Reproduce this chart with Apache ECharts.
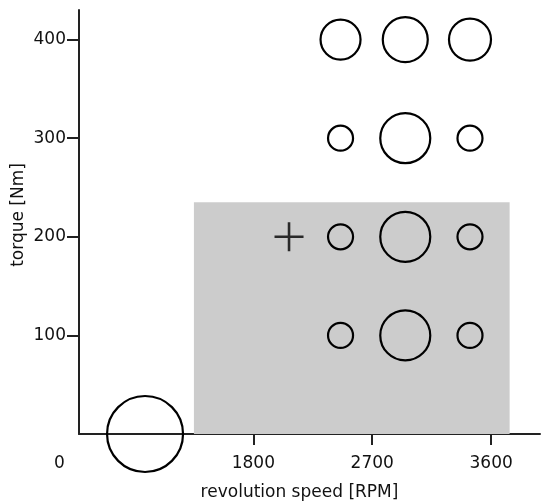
<!DOCTYPE html>
<html>
<head>
<meta charset="utf-8">
<script src="https://cdn.jsdelivr.net/npm/echarts@6/dist/echarts.min.js"></script>
<style>
  html, body { margin: 0; padding: 0; background: #fff; }
  #chart { width: 542px; height: 502px; }
</style>
</head>
<body>
<div id="chart"></div>
<script>
// Operating points: revolution speed [RPM], torque [Nm], marker diameter
const speeds = [2460, 2950, 3440];
const torqueLevels = [400, 300, 200, 100];
const sizesAt400 = [40, 45, 42];
const sizesAt300 = [25, 50, 25];
const sizesAt200 = [25, 50, 25];
const sizesAt100 = [25, 50, 25];

// Idle point near the origin
const idlePoint = [980, 0, 76];
// Single cross-marked point
const crossPoint = [2070, 200];

// Shaded operating region: speed range and torque limit
const regionSpeed = [1350, 3740];
const regionTorque = [0, 235];

// Axis settings
const xRange = [480, 3970];
const yRange = [0, 430];
const xTicks = [1800, 2700, 3600];
const yTicks = [100, 200, 300, 400];

const sizeRows = [sizesAt400, sizesAt300, sizesAt200, sizesAt100];
const circlePoints = [];
torqueLevels.forEach((t, r) => {
  speeds.forEach((s, i) => circlePoints.push([s, t, sizeRows[r][i]]));
});
circlePoints.push(idlePoint);

const font = 'DejaVu Sans, Verdana, sans-serif';
const fs = 17;
const ink = '#111';
const plain = v => String(v);

const chart = echarts.init(document.getElementById('chart'), null, { renderer: 'canvas' });
chart.setOption({
  animation: false,
  backgroundColor: '#fff',
  grid: { left: 79, right: 2, top: 10, bottom: 68, containLabel: false, outerBoundsMode: 'none' },
  xAxis: {
    type: 'value',
    min: xRange[0],
    max: xRange[1],
    name: 'revolution speed [RPM]',
    nameLocation: 'middle',
    nameGap: 50,
    nameTextStyle: { fontFamily: font, fontSize: fs, color: ink, padding: [0, 20, 0, 0] },
    axisLine: { show: true, lineStyle: { color: '#222', width: 2 } },
    axisTick: { show: true, length: 11, customValues: xTicks, lineStyle: { color: '#222', width: 2 } },
    axisLabel: { customValues: xTicks, formatter: plain, fontFamily: font, fontSize: fs, color: ink, margin: 21 },
    splitLine: { show: false }
  },
  yAxis: {
    type: 'value',
    min: yRange[0],
    max: yRange[1],
    name: 'torque [Nm]',
    nameLocation: 'middle',
    nameGap: 52,
    nameMoveOverlap: false,
    nameTextStyle: { fontFamily: font, fontSize: fs, color: ink, padding: [0, 0, 0, 14] },
    axisLine: { show: true, lineStyle: { color: '#222', width: 2 } },
    axisTick: { show: true, length: 12, customValues: yTicks, lineStyle: { color: '#222', width: 2 } },
    axisLabel: { customValues: yTicks, formatter: plain, fontFamily: font, fontSize: fs, color: ink, margin: 13 },
    splitLine: { show: false }
  },
  graphic: [{
    type: 'text',
    left: 54,
    top: 455,
    style: { text: '0', font: fs + 'px ' + font, fill: ink }
  }],
  series: [
    {
      type: 'scatter',
      clip: false,
      z: 3,
      symbol: 'circle',
      symbolSize: d => d[2],
      itemStyle: { color: 'rgba(0,0,0,0)', borderColor: '#000', borderWidth: 2.2, opacity: 1 },
      data: circlePoints,
      markArea: {
        silent: true,
        z: 1,
        itemStyle: { color: '#cccccc', opacity: 1 },
        data: [[
          { coord: [regionSpeed[0], regionTorque[0]] },
          { coord: [regionSpeed[1], regionTorque[1]] }
        ]]
      }
    },
    {
      type: 'scatter',
      clip: false,
      z: 3,
      symbol: 'path://M13.3,0h2.6v13.3h13.3v2.6h-13.3v13.3h-2.6v-13.3h-13.3v-2.6h13.3z',
      symbolSize: 29,
      itemStyle: { color: '#000' },
      data: [crossPoint]
    }
  ]
});
</script>
</body>
</html>
